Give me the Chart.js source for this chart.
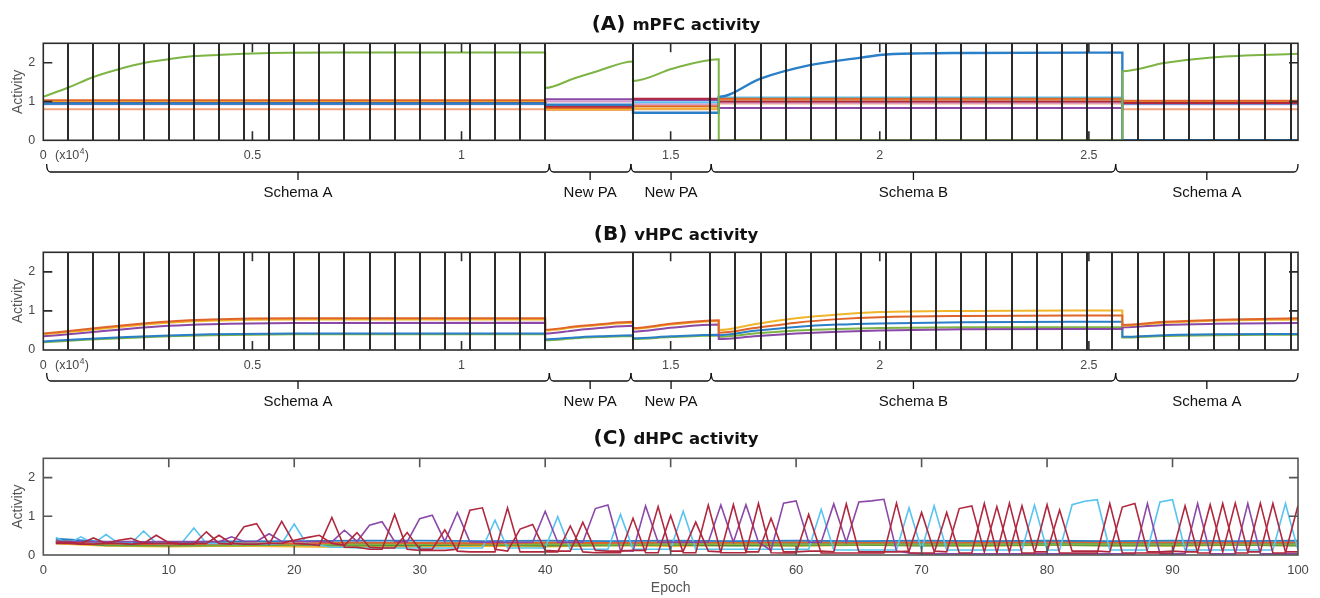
<!DOCTYPE html>
<html>
<head>
<meta charset="utf-8">
<script src="https://cdn.jsdelivr.net/npm/chart.js@4.4.0/dist/chart.umd.min.js"></script>
<style>
  body { margin: 0; background: #fff; width: 1320px; height: 598px; overflow: hidden; position: relative; }
  canvas { position: absolute; left: 0; }
</style>
</head>
<body>
<canvas id="mpfc" width="1320" height="205" style="top:0px"></canvas>
<canvas id="vhpc" width="1320" height="215" style="top:205px"></canvas>
<canvas id="dhpc" width="1320" height="178" style="top:420px"></canvas>
<script>
// ---- shared: training phases (x10^4 iterations) ----
const phaseNames = ['Schema A', 'New PA', 'New PA', 'Schema B', 'Schema A'];
const phaseBraces = [0.008, 1.21, 1.405, 1.597, 2.564, 3.0];
const dataEdges = [0, 1.2, 1.41, 1.615, 2.58, 3.0];
// black vertical lines (session boundaries)
const sessionLines = [0.06, 0.12, 0.18, 0.24, 0.30, 0.36, 0.42, 0.48, 0.54, 0.60,
  0.66, 0.72, 0.78, 0.84, 0.90, 0.96, 1.02, 1.08, 1.14, 1.20, 1.41,
  1.595, 1.655, 1.715, 1.775, 1.835, 1.895, 1.955, 2.015, 2.075, 2.135, 2.195,
  2.255, 2.315, 2.375, 2.435, 2.495, 2.555,
  2.618, 2.680, 2.740, 2.800, 2.860, 2.922, 2.983];

// ---- (A) mPFC: flat units, one value per phase ----
const mpfcOrange    = [1.03, 0.83, 0.88, 1.07, 1.02];
const mpfcYellow    = [1.01, 0.80, 0.82, 1.05, 1.00];
const mpfcPurple    = [0.94, 1.06, 1.04, 0.83, 0.94];
const mpfcDarkRed   = [0.96, 0.87, 1.07, 1.00, 0.96];
const mpfcLightBlue = [0.95, 0.90, 0.98, 1.10, 0.95];
const mpfcSalmon    = [0.80, 0.78, 0.80, 0.95, 0.80];
const mpfcPink      = [0.93, 1.00, 0.93, 0.97, 0.93];
// the two schema units
const mpfcGreenX = [0, 0.06, 0.12, 0.18, 0.24, 0.30, 0.36, 0.42, 0.54, 0.70, 1.2,
  1.2, 1.27, 1.33, 1.41, 1.41, 1.506, 1.615, 1.615, 2.58, 2.58, 2.68, 2.80, 3.0];
const mpfcGreenY = [1.12, 1.36, 1.63, 1.83, 1.99, 2.09, 2.17, 2.20, 2.25, 2.26, 2.26,
  1.35, 1.60, 1.80, 2.03, 1.53, 1.85, 2.09, 0, 0, 1.78, 1.99, 2.14, 2.23];
const mpfcBlueX = [0, 1.2, 1.2, 1.41, 1.41, 1.615, 1.615, 1.715, 1.83, 1.955, 2.0, 2.1, 2.2, 2.58, 2.58, 3.0];
const mpfcBlueY = [0.95, 0.95, 0.92, 0.92, 0.71, 0.71, 1.12, 1.59, 1.93, 2.13, 2.20, 2.24, 2.25, 2.26, 0, 0];

// ---- (B) vHPC ----
const vhpcX = [0, 0.1, 0.2, 0.3, 0.4, 0.6, 1.2,
  1.2, 1.27, 1.33, 1.41,
  1.41, 1.5, 1.615,
  1.615, 1.7, 1.8, 1.9, 2.0, 2.2, 2.58,
  2.58, 2.68, 2.8, 3.0];
const vhpcOrange = [0.42, 0.53, 0.64, 0.73, 0.78, 0.81, 0.81, 0.52, 0.60, 0.66, 0.72, 0.56, 0.67, 0.76,
  0.44, 0.56, 0.70, 0.79, 0.84, 0.87, 0.88, 0.64, 0.72, 0.77, 0.81];
const vhpcYellow = [0.40, 0.50, 0.61, 0.70, 0.75, 0.78, 0.78, 0.50, 0.58, 0.64, 0.70, 0.54, 0.65, 0.74,
  0.51, 0.66, 0.81, 0.91, 0.97, 1.00, 1.01, 0.62, 0.70, 0.75, 0.78];
const vhpcPurple = [0.35, 0.44, 0.54, 0.62, 0.66, 0.69, 0.70, 0.42, 0.50, 0.56, 0.62, 0.47, 0.57, 0.65,
  0.28, 0.35, 0.42, 0.47, 0.50, 0.53, 0.54, 0.58, 0.64, 0.67, 0.69];
const vhpcBlue   = [0.22, 0.28, 0.33, 0.37, 0.40, 0.42, 0.42, 0.27, 0.32, 0.35, 0.38, 0.30, 0.35, 0.39,
  0.38, 0.49, 0.59, 0.65, 0.68, 0.71, 0.72, 0.34, 0.38, 0.40, 0.41];
const vhpcGreen  = [0.20, 0.26, 0.31, 0.35, 0.38, 0.40, 0.40, 0.25, 0.30, 0.33, 0.36, 0.28, 0.33, 0.37,
  0.34, 0.42, 0.50, 0.54, 0.56, 0.58, 0.58, 0.32, 0.36, 0.38, 0.39];

// ---- (C) dHPC, epochs 1..100 ----
const dhpcRedA = [0.33, 0.33, 0.30, 0.44, 0.30, 0.38, 0.43, 0.30, 0.51, 0.32,
  0.30, 0.28, 0.60, 0.30, 0.28, 0.73, 0.81, 0.28, 0.87, 0.30,
  0.28, 0.25, 0.97, 0.20, 0.20, 0.15, 0.15, 1.05, 0.15, 0.12,
  0.12, 0.12, 0.15, 1.16, 1.22, 0.15, 0.10, 0.67, 0.79, 0.12,
  0.10, 0.10, 0.85, 0.12, 0.10, 0.10, 0.12, 0.12, 1.25, 0.10,
  0.10, 0.85, 0.10, 0.08, 1.30, 0.08, 0.08, 0.95, 0.08, 0.08,
  0.10, 0.10, 0.08, 1.32, 0.08, 0.08, 0.08, 0.08, 0.10, 1.10,
  0.10, 0.08, 1.20, 1.27, 0.08, 1.25, 0.08, 1.27, 0.08, 0.08,
  1.16, 0.10, 0.10, 0.10, 0.08, 1.24, 1.33, 0.08, 0.08, 0.10,
  0.08, 0.08, 1.30, 0.08, 1.34, 0.08, 0.08, 1.33, 0.08, 0.08];
const dhpcRedB = [0.30, 0.30, 0.28, 0.28, 0.30, 0.30, 0.28, 0.30, 0.30, 0.30,
  0.28, 0.30, 0.30, 0.51, 0.30, 0.28, 0.28, 0.30, 0.30, 0.38,
  0.45, 0.51, 0.30, 0.25, 0.58, 0.20, 0.18, 0.18, 0.58, 0.15,
  0.15, 0.65, 0.10, 0.08, 0.08, 0.08, 1.22, 0.08, 0.08, 0.08,
  0.08, 0.75, 0.08, 0.06, 0.06, 0.06, 0.95, 0.06, 0.06, 1.02,
  0.06, 0.06, 1.29, 0.06, 0.06, 0.06, 1.33, 0.06, 0.05, 0.05,
  1.05, 0.05, 0.05, 0.05, 0.05, 0.05, 0.05, 1.34, 0.05, 0.05,
  0.05, 1.10, 0.05, 0.05, 1.33, 0.05, 1.34, 0.05, 0.05, 1.30,
  0.05, 0.05, 0.05, 0.05, 1.33, 0.05, 0.05, 0.05, 0.05, 0.05,
  1.27, 0.05, 0.05, 1.33, 0.05, 0.05, 1.34, 0.05, 0.05, 1.28];
const dhpcPurple = [0.36, 0.35, 0.35, 0.34, 0.35, 0.35, 0.35, 0.34, 0.35, 0.35,
  0.35, 0.35, 0.35, 0.34, 0.47, 0.35, 0.35, 0.55, 0.35, 0.35,
  0.35, 0.35, 0.34, 0.64, 0.35, 0.77, 0.86, 0.35, 0.34, 0.94,
  1.03, 0.35, 1.10, 0.34, 0.33, 0.33, 0.33, 0.33, 0.33, 1.13,
  0.33, 0.33, 0.33, 1.20, 1.29, 0.12, 0.10, 1.27, 0.33, 0.33,
  0.33, 0.33, 0.33, 1.29, 0.33, 1.30, 0.33, 0.12, 1.34, 1.40,
  0.33, 0.33, 1.32, 0.33, 1.37, 1.40, 1.44, 0.10, 0.05, 0.03,
  0.03, 0.03, 0.03, 0.03, 0.03, 0.03, 0.03, 0.03, 0.03, 0.03,
  0.03, 0.03, 0.03, 0.03, 0.03, 0.03, 0.03, 1.33, 0.03, 0.03,
  0.03, 1.33, 0.03, 0.03, 0.03, 1.33, 0.03, 0.03, 0.03, 0.03];
const dhpcLightBlue = [0.45, 0.30, 0.47, 0.30, 0.53, 0.30, 0.30, 0.62, 0.30, 0.30,
  0.30, 0.70, 0.30, 0.30, 0.30, 0.28, 0.28, 0.28, 0.30, 0.80,
  0.28, 0.25, 0.20, 0.20, 0.18, 0.18, 0.18, 0.18, 0.18, 0.18,
  0.18, 0.18, 0.18, 0.18, 0.18, 0.90, 0.18, 0.18, 0.18, 0.18,
  0.99, 0.15, 0.15, 0.15, 0.15, 1.05, 0.15, 0.15, 0.15, 0.15,
  1.13, 0.15, 0.15, 0.15, 0.15, 0.15, 0.15, 0.15, 0.15, 0.15,
  0.15, 1.18, 0.13, 0.13, 0.13, 0.13, 0.13, 0.13, 1.22, 0.13,
  1.27, 0.13, 0.13, 0.13, 0.13, 0.13, 0.13, 0.13, 1.29, 0.13,
  0.13, 1.30, 1.39, 1.43, 0.13, 0.13, 0.13, 0.13, 1.37, 1.43,
  0.13, 0.13, 0.13, 0.13, 0.13, 0.13, 0.13, 0.13, 1.33, 0.13];
// slow background units, sampled every 5 epochs
const dhpcBaseEpochs = [1, 5, 10, 15, 20, 25, 30, 35, 40, 45, 50, 55, 60, 65, 70, 75, 80, 85, 90, 95, 100];
const dhpcBaseBlue   = [0.42, 0.34, 0.33, 0.35, 0.36, 0.37, 0.37, 0.36, 0.37, 0.36, 0.37, 0.36, 0.37, 0.36, 0.37, 0.36, 0.37, 0.36, 0.37, 0.36, 0.37];
const dhpcBaseOrange = [0.35, 0.30, 0.28, 0.30, 0.30, 0.32, 0.31, 0.30, 0.32, 0.31, 0.33, 0.32, 0.33, 0.32, 0.33, 0.32, 0.34, 0.33, 0.33, 0.32, 0.33];
const dhpcBaseYellow = [0.30, 0.24, 0.22, 0.24, 0.22, 0.20, 0.22, 0.24, 0.22, 0.25, 0.23, 0.26, 0.24, 0.26, 0.25, 0.24, 0.26, 0.25, 0.24, 0.26, 0.25];
const dhpcBaseGreen  = [0.38, 0.27, 0.28, 0.26, 0.28, 0.27, 0.29, 0.27, 0.28, 0.27, 0.28, 0.29, 0.27, 0.28, 0.27, 0.28, 0.27, 0.28, 0.27, 0.28, 0.27];
const dhpcBaseTeal   = [0.32, 0.29, 0.30, 0.31, 0.29, 0.30, 0.30, 0.31, 0.30, 0.29, 0.30, 0.31, 0.30, 0.29, 0.30, 0.31, 0.30, 0.29, 0.30, 0.31, 0.30];
const dhpcBaseGreen2 = [0.34, 0.25, 0.24, 0.25, 0.26, 0.24, 0.25, 0.26, 0.24, 0.25, 0.26, 0.24, 0.25, 0.26, 0.24, 0.25, 0.26, 0.24, 0.25, 0.26, 0.24];

const C = { blue: '#2a7fc9', orange: '#e0652a', yellow: '#f0b52a', purple: '#8a48a8', green: '#7db443',
  lightBlue: '#57c3f0', darkRed: '#b0283f', salmon: '#f2a27c', pink: '#d79bc9' };

const tickFont = { family: 'Liberation Sans, Arial, sans-serif', size: 12.5 };
const tickColor = '#474747';

function xy(xs, ys) { return xs.map((x, i) => ({ x: x, y: ys[i] })); }
function steps(vals) {
  const pts = [];
  vals.forEach((v, i) => { pts.push({ x: dataEdges[i], y: v }); pts.push({ x: dataEdges[i + 1], y: v }); });
  return pts;
}
function line(data, color, width) {
  return { data: data, borderColor: color, borderWidth: width, pointRadius: 0, fill: false };
}

const matlabFrame = {
  id: 'matlabFrame',
  afterDatasetsDraw(chart, args, o) {
    if (!o.sessions) return;
    const { ctx, chartArea: a, scales: { x } } = chart;
    ctx.save();
    ctx.strokeStyle = 'rgba(25,25,25,0.92)';
    ctx.lineWidth = 2;
    o.sessions.forEach(v => {
      const px = Math.round(x.getPixelForValue(v));
      ctx.beginPath(); ctx.moveTo(px, a.top); ctx.lineTo(px, a.bottom); ctx.stroke();
    });
    ctx.restore();
  },
  afterDraw(chart, args, o) {
    const { ctx, chartArea: a, scales: { x, y } } = chart;
    ctx.save();
    ctx.strokeStyle = o.boxColor;
    ctx.lineWidth = 1.6;
    ctx.strokeRect(a.left, a.top, a.right - a.left, a.bottom - a.top);
    // inward tick marks, MATLAB style
    ctx.beginPath();
    o.xTicks.forEach(v => {
      const px = x.getPixelForValue(v);
      ctx.moveTo(px, a.top); ctx.lineTo(px, a.top + 9);
      ctx.moveTo(px, a.bottom); ctx.lineTo(px, a.bottom - 9);
    });
    [1, 2].forEach(v => {
      const py = y.getPixelForValue(v);
      ctx.moveTo(a.left, py); ctx.lineTo(a.left + 9, py);
      ctx.moveTo(a.right, py); ctx.lineTo(a.right - 9, py);
    });
    ctx.stroke();

    // title
    ctx.fillStyle = '#111';
    ctx.textBaseline = 'middle';
    ctx.font = 'bold 20px DejaVu Sans, sans-serif';
    const w1 = ctx.measureText(o.tag + ' ').width;
    ctx.font = 'bold 16.5px DejaVu Sans, sans-serif';
    const w2 = ctx.measureText(o.title).width;
    let tx = o.titleX - (w1 + w2) / 2;
    ctx.textAlign = 'left';
    ctx.font = 'bold 20px DejaVu Sans, sans-serif';
    ctx.fillText(o.tag, tx, o.titleY);
    ctx.font = 'bold 16.5px DejaVu Sans, sans-serif';
    ctx.fillText(o.title, tx + w1, o.titleY + 1);

    if (o.exponent) {
      const ey = a.bottom + 15.4;
      ctx.fillStyle = tickColor;
      ctx.font = '12.5px Liberation Sans, Arial, sans-serif';
      ctx.fillText('(x10', 55, ey);
      const wa = ctx.measureText('(x10').width;
      ctx.font = '8.5px Liberation Sans, Arial, sans-serif';
      ctx.fillText('4', 55 + wa + 0.5, ey - 4);
      ctx.font = '12.5px Liberation Sans, Arial, sans-serif';
      ctx.fillText(')', 55 + wa + 5.5, ey);
    }

    if (o.braces) {
      const yb = a.bottom + o.braceDy;
      ctx.strokeStyle = '#111';
      ctx.lineWidth = 1.3;
      ctx.fillStyle = '#111';
      ctx.font = '15px Liberation Sans, Arial, sans-serif';
      ctx.textAlign = 'center';
      phaseNames.forEach((name, i) => {
        const x0 = x.getPixelForValue(phaseBraces[i]);
        const x1 = x.getPixelForValue(phaseBraces[i + 1]);
        const xm = (x0 + x1) / 2;
        ctx.beginPath();
        ctx.moveTo(x0, yb - 8);
        ctx.quadraticCurveTo(x0, yb, x0 + 4, yb);
        ctx.lineTo(x1 - 4, yb);
        ctx.quadraticCurveTo(x1, yb, x1, yb - 8);
        ctx.moveTo(xm, yb);
        ctx.lineTo(xm, yb + 8);
        ctx.stroke();
        ctx.fillText(name, xm, yb + 21);
      });
    }
    ctx.restore();
  }
};

function panel(id, cfg) {
  return new Chart(document.getElementById(id), {
    type: 'line',
    data: { datasets: cfg.datasets },
    options: {
      responsive: false,
      animation: false,
      devicePixelRatio: 1,
      layout: { padding: { top: cfg.top, right: 22, bottom: cfg.bottom, left: 0 } },
      elements: { line: { cubicInterpolationMode: cfg.mode, tension: cfg.tension } },
      plugins: {
        legend: { display: false },
        tooltip: { enabled: false },
        matlabFrame: {
          sessions: cfg.sessions, braces: cfg.braces, braceDy: cfg.braceDy, exponent: cfg.exponent,
          xTicks: cfg.xTicks, boxColor: cfg.boxColor,
          tag: cfg.tag, title: cfg.title, titleX: 676, titleY: cfg.titleY
        }
      },
      scales: {
        x: {
          type: 'linear', min: 0, max: cfg.xMax,
          grid: { display: false, drawTicks: false },
          border: { display: false },
          ticks: {
            stepSize: cfg.xStep, color: tickColor, font: cfg.xFont, padding: cfg.xPad,
            maxRotation: 0, autoSkip: false,
            callback: v => (v === 3 ? '' : v)
          },
          title: cfg.xTitle || { display: false },
          afterFit: s => { s.height = cfg.xHeight; }
        },
        y: {
          min: 0, max: 2.5,
          grid: { display: false, drawTicks: false },
          border: { display: false },
          ticks: { stepSize: 1, color: tickColor, font: cfg.xFont, padding: 8,
            callback: v => (Number.isInteger(v) ? v : '') },
          title: { display: true, text: 'Activity', color: '#555',
            font: { family: 'Liberation Sans, Arial, sans-serif', size: 14 }, padding: { top: 9.5, bottom: 0 } },
          afterFit: s => { s.width = 43.3; }
        }
      }
    },
    plugins: [matlabFrame]
  });
}

// (A) mPFC activity
panel('mpfc', {
  datasets: [
    line(xy(mpfcGreenX, mpfcGreenY), C.green, 2),
    line(xy(mpfcBlueX, mpfcBlueY), C.blue, 2.4),
    line(steps(mpfcDarkRed), C.darkRed, 2),
    line(steps(mpfcOrange), C.orange, 2),
    line(steps(mpfcLightBlue), C.lightBlue, 2),
    line(steps(mpfcPurple), C.purple, 2),
    line(steps(mpfcYellow), C.yellow, 2),
    line(steps(mpfcPink), C.pink, 2),
    line(steps(mpfcSalmon), C.salmon, 2)
  ],
  mode: 'monotone', tension: 0.4,
  top: 43.3, bottom: 39.7, xHeight: 25, xMax: 3, xStep: 0.5, xPad: 8, xFont: tickFont,
  xTicks: [0.5, 1, 1.5, 2, 2.5], boxColor: '#2b2b2b',
  sessions: sessionLines, braces: true, braceDy: 31.7, exponent: true,
  tag: '(A)', title: 'mPFC activity', titleY: 25
});

// (B) vHPC activity
panel('vhpc', {
  datasets: [
    line(xy(vhpcX, vhpcOrange), C.orange, 2),
    line(xy(vhpcX, vhpcYellow), C.yellow, 2),
    line(xy(vhpcX, vhpcPurple), C.purple, 2),
    line(xy(vhpcX, vhpcBlue), C.blue, 2),
    line(xy(vhpcX, vhpcGreen), C.green, 2)
  ],
  mode: 'monotone', tension: 0.4,
  top: 47.3, bottom: 45, xHeight: 25, xMax: 3, xStep: 0.5, xPad: 8, xFont: tickFont,
  xTicks: [0.5, 1, 1.5, 2, 2.5], boxColor: '#2b2b2b',
  sessions: sessionLines, braces: true, braceDy: 31, exponent: true,
  tag: '(B)', title: 'vHPC activity', titleY: 30
});

// (C) dHPC activity
const epochs = dhpcRedA.map((v, i) => i + 1);
panel('dhpc', {
  datasets: [
    line(xy(epochs, dhpcRedA), C.darkRed, 1.6),
    line(xy(epochs, dhpcRedB), C.darkRed, 1.6),
    line(xy(epochs, dhpcPurple), C.purple, 1.6),
    line(xy(epochs, dhpcLightBlue), C.lightBlue, 1.6),
    line(xy(dhpcBaseEpochs, dhpcBaseBlue), C.blue, 1.8),
    line(xy(dhpcBaseEpochs, dhpcBaseOrange), C.orange, 2),
    line(xy(dhpcBaseEpochs, dhpcBaseGreen), C.green, 2),
    line(xy(dhpcBaseEpochs, dhpcBaseTeal), '#3a9a8c', 1.6),
    line(xy(dhpcBaseEpochs, dhpcBaseGreen2), '#4f8f3a', 1.6),
    line(xy(dhpcBaseEpochs, dhpcBaseYellow), C.yellow, 2)
  ],
  mode: 'default', tension: 0,
  top: 38.3, bottom: 0, xHeight: 43, xMax: 100, xStep: 10, xPad: 7.2,
  xFont: { family: 'Liberation Sans, Arial, sans-serif', size: 13 },
  xTicks: [10, 20, 30, 40, 50, 60, 70, 80, 90], boxColor: '#555',
  xTitle: { display: true, text: 'Epoch', color: '#555',
    font: { family: 'Liberation Sans, Arial, sans-serif', size: 14 }, padding: { top: 0, bottom: 1 } },
  tag: '(C)', title: 'dHPC activity', titleY: 19
});
</script>
</body>
</html>
